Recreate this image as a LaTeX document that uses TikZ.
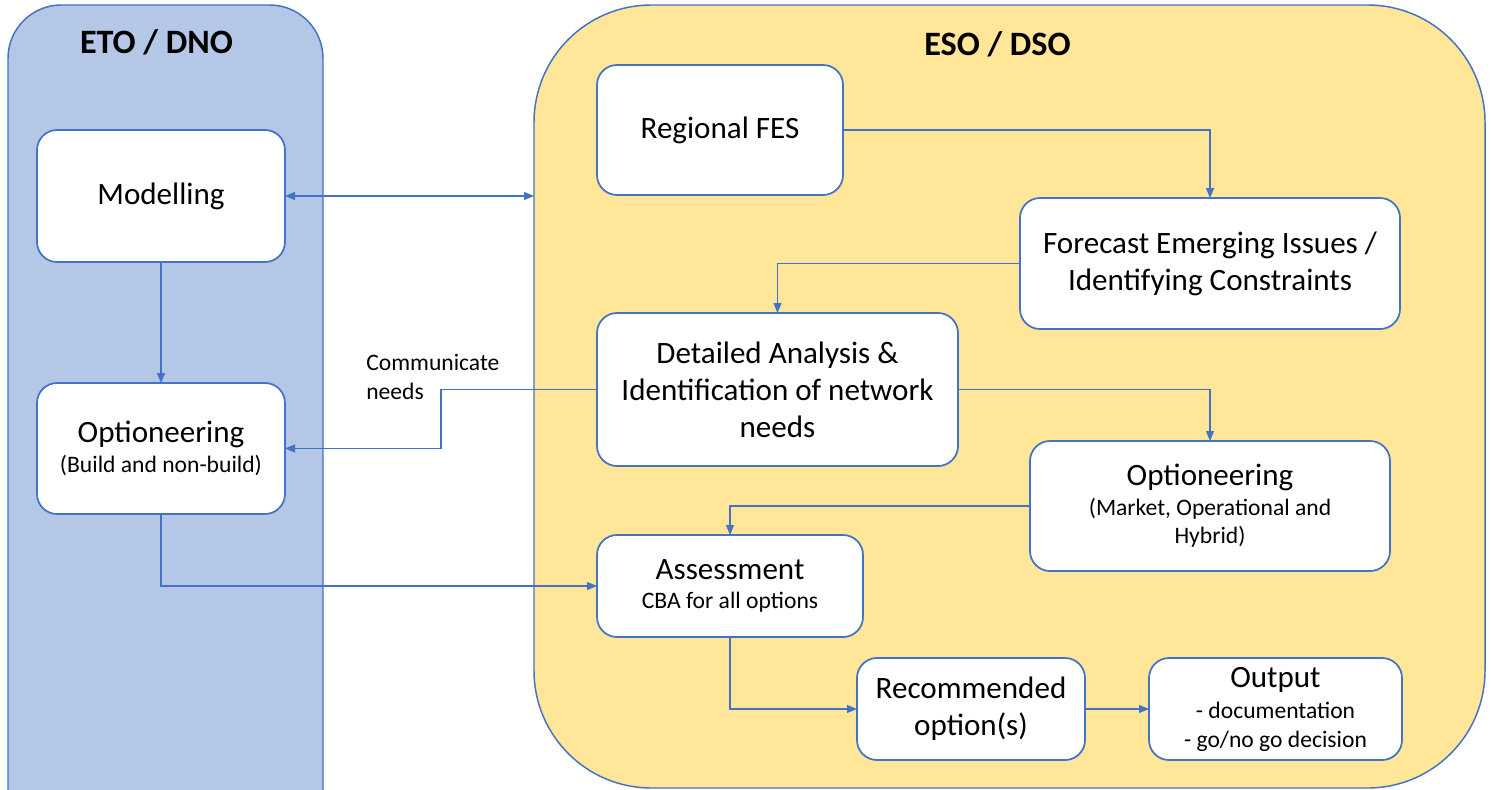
\documentclass[tikz,border=0pt]{standalone}
\usepackage{fontspec}
\setmainfont{Carlito}
\usetikzlibrary{arrows.meta,calc}
\definecolor{edge}{HTML}{4472C4}
\definecolor{etofill}{HTML}{B4C7E7}
\definecolor{esofill}{HTML}{FFE699}
\newcommand{\mainsz}{\fontsize{23.3}{27.75}\selectfont}
\newcommand{\subsz}{\fontsize{17.7}{21.4}\selectfont}
\newcommand{\titlesz}{\fontsize{25.6}{30}\selectfont\bfseries}

\begin{document}
\begin{tikzpicture}[x=0.75pt,y=-0.75pt,
  sz/.style 2 args={minimum width=#1*0.75pt, minimum height=#2*0.75pt},
  panel/.style={draw=edge, line width=1.1pt, inner sep=0pt, outer sep=0pt},
  box/.style={draw=edge, fill=white, line width=1.3pt, rounded corners=15pt,
    inner sep=0pt, outer sep=0pt, align=center, font=\mainsz},
  title/.style={font=\titlesz, anchor=base},
  arr/.style={draw=edge, line width=0.8pt, -{Triangle[length=7.5pt,width=6pt]}},
  darr/.style={draw=edge, line width=0.8pt, {Triangle[length=7.5pt,width=6pt]}-{Triangle[length=7.5pt,width=6pt]}},
]
\useasboundingbox (0,0) rectangle (1491,789);
\clip (0,0) rectangle (1491,789);
\fill[white] (0,0) rectangle (1491,789);

% swim lanes
\node[panel, fill=etofill, rounded corners=40pt, sz={315}{895}] (eto) at (165.5,452.5) {};
\node[panel, fill=esofill, rounded corners=88pt, sz={951}{783}] (eso) at (1009.5,396.5) {};
\node[title] (etoT) at (156.5,53) {ETO / DNO};
\node[title] (esoT) at (997.5,55) {ESO / DSO};

% ETO / DNO steps
\node[box, sz={248}{132}] (model) at (161,196) {Modelling};
\node[box, sz={248}{131}] (optL) at (161,448.5) {Optioneering\\[-5pt]{\subsz (Build and non-build)}};

% ESO / DSO steps
\node[box, sz={246}{130}] (reg) at (720,130) {Regional FES};
\node[box, sz={380}{131}] (fc) at (1210,263.5) {Forecast Emerging Issues /\\Identifying Constraints};
\node[box, sz={361}{153}] (det) at (777.5,389.5) {Detailed Analysis \&\\Identification of network\\needs};
\node[box, sz={360}{130}] (optR) at (1210,506) {Optioneering\\[-5.5pt]{\subsz (Market, Operational and}\\[-6.5pt]{\subsz Hybrid)}};
\node[box, sz={266}{102}] (ass) at (730,586) {Assessment\\[-6pt]{\subsz CBA for all options}};
\node[box, sz={228}{102}] (rec) at (971,709) {Recommended\\option(s)};
\node[box, sz={253}{102}] (out) at (1275.5,709) {Output\\[-4pt]{\subsz - documentation}\\[-6.5pt]{\subsz - go/no go decision}};

\node[anchor=base west, align=left, inner sep=0pt, font=\subsz] (comm) at (366,399) {Communicate\\needs};

% connectors
\coordinate (bend) at (441,449);
\draw[darr] (model.east) -- (model.east -| eso.west);
\draw[arr] (model.south) -- (optL.north);
\draw[arr] (det.west) -- (det.west -| bend) |- (optL.east);
\draw[arr] (optL.south) |- (ass.west);
\draw[arr] (reg.east) -| (fc.north);
\draw[arr] (fc.west) -| (det.north);
\draw[arr] (det.east) -| (optR.north);
\draw[arr] (optR.west) -| (ass.north);
\draw[arr] (ass.south) |- (rec.west);
\draw[arr] (rec.east) -- (out.west);
\end{tikzpicture}
\end{document}
